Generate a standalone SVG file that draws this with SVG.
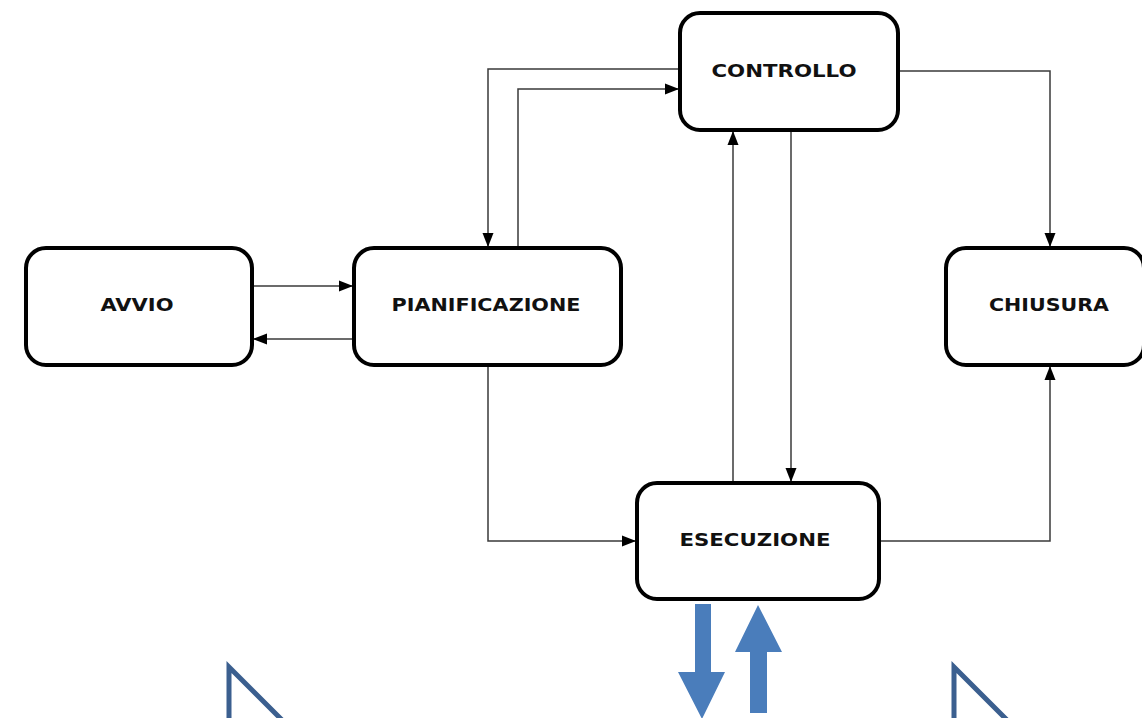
<svg xmlns="http://www.w3.org/2000/svg" width="1142" height="718" viewBox="0 0 1142 718">
<style>
.box{fill:#fff;stroke:#000;stroke-width:4}
.lbl{font-family:"DejaVu Sans",Verdana,sans-serif;font-weight:bold;font-size:17px;fill:#111;text-anchor:middle}
.con{fill:none;stroke:#3a3a3a;stroke-width:1.5;marker-end:url(#ah)}
.blue{fill:#4a7dbb}
.tri{fill:#fff;stroke:#3b5f8f;stroke-width:5}
</style>
<defs>
<marker id="ah" markerUnits="userSpaceOnUse" markerWidth="15" markerHeight="14" refX="14" refY="7" orient="auto" viewBox="0 0 15 14">
<path d="M0,1.5 L14,7 L0,12.5 z" fill="#000"/>
</marker>
</defs>
<rect width="1142" height="718" fill="#fff"/>
<g id="connectors">
<path class="con" d="M252,286 H353"/>
<path class="con" d="M354,339 H253"/>
<path class="con" d="M680,69 H488 V247"/>
<path class="con" d="M518,248 V89 H679"/>
<path class="con" d="M898,71 H1050 V247"/>
<path class="con" d="M733,483 V131"/>
<path class="con" d="M791,130 V482"/>
<path class="con" d="M488,365 V541 H636"/>
<path class="con" d="M879,541 H1050 V366"/>
</g>
<g id="avvio">
<rect class="box" x="26" y="248" width="226" height="117" rx="20"/>
<text class="lbl" x="137" y="311" textLength="73" lengthAdjust="spacingAndGlyphs">AVVIO</text>
</g>
<g id="pianificazione">
<rect class="box" x="354" y="248" width="267" height="117" rx="20"/>
<text class="lbl" x="486" y="311" textLength="189" lengthAdjust="spacingAndGlyphs">PIANIFICAZIONE</text>
</g>
<g id="controllo">
<rect class="box" x="680" y="13" width="218" height="117" rx="20"/>
<text class="lbl" x="784" y="77" textLength="145" lengthAdjust="spacingAndGlyphs">CONTROLLO</text>
</g>
<g id="chiusura">
<rect class="box" x="946" y="248" width="198" height="117" rx="20"/>
<text class="lbl" x="1049" y="311" textLength="120" lengthAdjust="spacingAndGlyphs">CHIUSURA</text>
</g>
<g id="esecuzione">
<rect class="box" x="637" y="483" width="242" height="116" rx="20"/>
<text class="lbl" x="755" y="546" textLength="151" lengthAdjust="spacingAndGlyphs">ESECUZIONE</text>
</g>
<g id="blue-arrows">
<polygon class="blue" points="695,604 711,604 711,672 725,672 702,719 678,672 695,672"/>
<polygon class="blue" points="758,605 782,652 767,652 767,713 750,713 750,652 735,652"/>
</g>
<g id="triangles">
<polygon class="tri" points="229,667 229,745 307,745"/>
<polygon class="tri" points="954,667 954,745 1032,745"/>
</g>
</svg>
